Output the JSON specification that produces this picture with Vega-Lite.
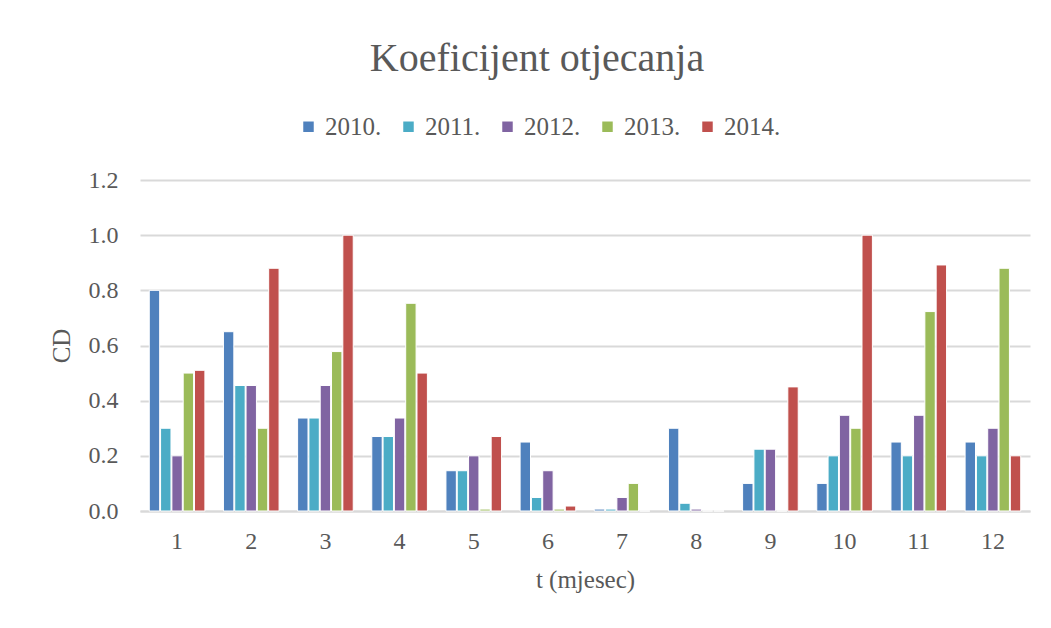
{
  "$schema": "https://vega.github.io/schema/vega-lite/v6.json",
  "autosize": "none",
  "width": 890,
  "height": 331,
  "padding": {"left": 140, "top": 180, "right": 21, "bottom": 117},
  "background": "white",
  "title": {
    "text": "Koeficijent otjecanja",
    "font": "Liberation Serif",
    "fontSize": 40,
    "fontWeight": "normal",
    "color": "#595959",
    "anchor": "middle",
    "dx": -48,
    "offset": 35
  },
  "data": {
    "values": [
      {"month": 1, "year": "2010.", "cd": 0.80},
      {"month": 1, "year": "2011.", "cd": 0.30},
      {"month": 1, "year": "2012.", "cd": 0.20},
      {"month": 1, "year": "2013.", "cd": 0.50},
      {"month": 1, "year": "2014.", "cd": 0.51},
      {"month": 2, "year": "2010.", "cd": 0.65},
      {"month": 2, "year": "2011.", "cd": 0.455},
      {"month": 2, "year": "2012.", "cd": 0.455},
      {"month": 2, "year": "2013.", "cd": 0.30},
      {"month": 2, "year": "2014.", "cd": 0.88},
      {"month": 3, "year": "2010.", "cd": 0.337},
      {"month": 3, "year": "2011.", "cd": 0.337},
      {"month": 3, "year": "2012.", "cd": 0.455},
      {"month": 3, "year": "2013.", "cd": 0.578},
      {"month": 3, "year": "2014.", "cd": 1.0},
      {"month": 4, "year": "2010.", "cd": 0.27},
      {"month": 4, "year": "2011.", "cd": 0.27},
      {"month": 4, "year": "2012.", "cd": 0.337},
      {"month": 4, "year": "2013.", "cd": 0.753},
      {"month": 4, "year": "2014.", "cd": 0.50},
      {"month": 5, "year": "2010.", "cd": 0.146},
      {"month": 5, "year": "2011.", "cd": 0.146},
      {"month": 5, "year": "2012.", "cd": 0.20},
      {"month": 5, "year": "2013.", "cd": 0.007},
      {"month": 5, "year": "2014.", "cd": 0.27},
      {"month": 6, "year": "2010.", "cd": 0.25},
      {"month": 6, "year": "2011.", "cd": 0.049},
      {"month": 6, "year": "2012.", "cd": 0.146},
      {"month": 6, "year": "2013.", "cd": 0.007},
      {"month": 6, "year": "2014.", "cd": 0.018},
      {"month": 7, "year": "2010.", "cd": 0.007},
      {"month": 7, "year": "2011.", "cd": 0.007},
      {"month": 7, "year": "2012.", "cd": 0.049},
      {"month": 7, "year": "2013.", "cd": 0.10},
      {"month": 7, "year": "2014.", "cd": 0},
      {"month": 8, "year": "2010.", "cd": 0.30},
      {"month": 8, "year": "2011.", "cd": 0.028},
      {"month": 8, "year": "2012.", "cd": 0.007},
      {"month": 8, "year": "2013.", "cd": 0},
      {"month": 8, "year": "2014.", "cd": 0},
      {"month": 9, "year": "2010.", "cd": 0.10},
      {"month": 9, "year": "2011.", "cd": 0.224},
      {"month": 9, "year": "2012.", "cd": 0.224},
      {"month": 9, "year": "2013.", "cd": 0},
      {"month": 9, "year": "2014.", "cd": 0.45},
      {"month": 10, "year": "2010.", "cd": 0.10},
      {"month": 10, "year": "2011.", "cd": 0.20},
      {"month": 10, "year": "2012.", "cd": 0.347},
      {"month": 10, "year": "2013.", "cd": 0.30},
      {"month": 10, "year": "2014.", "cd": 1.0},
      {"month": 11, "year": "2010.", "cd": 0.25},
      {"month": 11, "year": "2011.", "cd": 0.20},
      {"month": 11, "year": "2012.", "cd": 0.347},
      {"month": 11, "year": "2013.", "cd": 0.723},
      {"month": 11, "year": "2014.", "cd": 0.892},
      {"month": 12, "year": "2010.", "cd": 0.25},
      {"month": 12, "year": "2011.", "cd": 0.20},
      {"month": 12, "year": "2012.", "cd": 0.30},
      {"month": 12, "year": "2013.", "cd": 0.88},
      {"month": 12, "year": "2014.", "cd": 0.20}
    ]
  },
  "mark": {"type": "bar", "stroke": "white", "strokeWidth": 1},
  "encoding": {
    "x": {
      "field": "month",
      "type": "ordinal",
      "scale": {"paddingInner": 0.25, "paddingOuter": 0.125},
      "axis": {
        "title": "t (mjesec)",
        "titleFont": "Liberation Serif",
        "titleFontSize": 25,
        "titleFontWeight": "normal",
        "titleColor": "#595959",
        "titlePadding": 14,
        "labelFont": "Liberation Serif",
        "labelFontSize": 24,
        "labelColor": "#595959",
        "labelAngle": 0,
        "labelPadding": 18,
        "ticks": false,
        "domainColor": "#D9D9D9",
        "domainWidth": 2,
        "grid": false
      }
    },
    "xOffset": {"field": "year", "type": "nominal", "scale": {"paddingInner": 0.08}},
    "y": {
      "field": "cd",
      "type": "quantitative",
      "scale": {"domain": [0, 1.2], "nice": false},
      "axis": {
        "title": "CD",
        "titleFont": "Liberation Serif",
        "titleFontSize": 25,
        "titleFontWeight": "normal",
        "titleColor": "#595959",
        "titlePadding": 14,
        "values": [0, 0.2, 0.4, 0.6, 0.8, 1.0, 1.2],
        "format": ".1f",
        "labelFont": "Liberation Serif",
        "labelFontSize": 24,
        "labelColor": "#595959",
        "labelPadding": 22,
        "ticks": false,
        "domain": false,
        "gridColor": "#D9D9D9",
        "gridWidth": 2
      }
    },
    "color": {
      "field": "year",
      "type": "nominal",
      "scale": {
        "domain": ["2010.", "2011.", "2012.", "2013.", "2014."],
        "range": ["#4F81BD", "#4BACC6", "#8064A2", "#9BBB59", "#C0504D"]
      },
      "legend": {
        "title": null,
        "orient": "none",
        "legendX": 156,
        "legendY": -66,
        "direction": "horizontal",
        "symbolType": "square",
        "symbolSize": 110,
        "symbolStrokeWidth": 0,
        "labelFont": "Liberation Serif",
        "labelFontSize": 25,
        "labelColor": "#595959",
        "labelOffset": 4,
        "columnPadding": 14
      }
    }
  },
  "config": {
    "view": {"stroke": null}
  }
}
